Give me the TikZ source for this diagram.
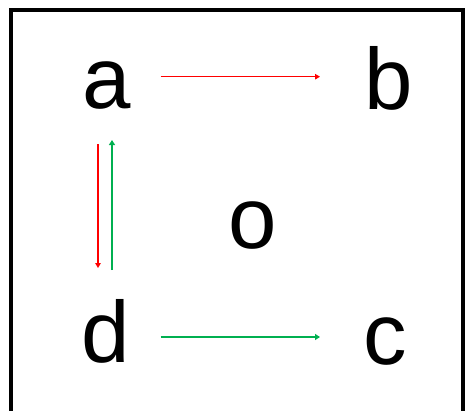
\documentclass[tikz,border=0pt]{standalone}
\usepackage{fontspec}
\setmainfont{Liberation Sans}
\usetikzlibrary{arrows.meta}
\definecolor{arrred}{HTML}{FF0000}
\definecolor{arrgreen}{HTML}{00B050}
\tikzset{
  letter/.style={inner sep=0pt, anchor=base, font=\fontsize{87}{100}\selectfont},
  redarrow/.style={draw=arrred, line width=1.5pt, -{Triangle[length=5pt,width=5.5pt]}},
  greenarrow/.style={draw=arrgreen, line width=1.7pt, -{Triangle[length=5pt,width=6pt]}},
  frame/.style={draw=black, line width=3.6pt}
}
\begin{document}
\begin{tikzpicture}[x=1pt,y=-1pt]
\useasboundingbox (0,0) rectangle (465,410);
\draw[frame] (11,10) rectangle (463,440);
\node[letter] (a) at (106.5,108) {a};
\node[letter] (b) at (388.5,109) {b};
\node[letter] (o) at (252.5,248) {o};
\node[letter] (d) at (106,362) {d};
\node[letter] (c) at (385,364) {c};
\draw[redarrow] ([xshift=54.2pt,yshift=31.3pt]a.base) -- ([xshift=-68.5pt,yshift=32.3pt]b.base);
\draw[redarrow] ([xshift=-8.5pt,yshift=-36pt]a.base) -- ([xshift=-8pt,yshift=94pt]d.base);
\draw[greenarrow] ([xshift=6pt,yshift=92pt]d.base) -- ([xshift=5.5pt,yshift=-32pt]a.base);
\draw[greenarrow] ([xshift=54.7pt,yshift=25pt]d.base) -- ([xshift=-65pt,yshift=27pt]c.base);
\end{tikzpicture}
\end{document}
